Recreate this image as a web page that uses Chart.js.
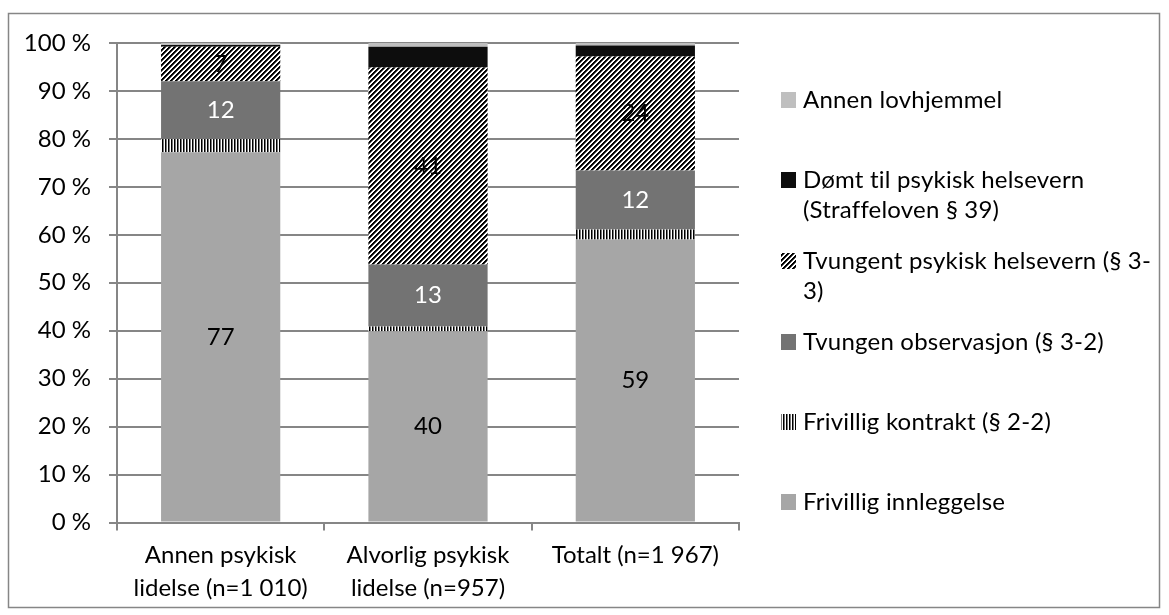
<!DOCTYPE html>
<html lang="no">
<head>
<meta charset="UTF-8">
<title>Lovhjemmel ved innleggelse</title>
<script src="https://cdn.jsdelivr.net/npm/chart.js"></script>
<style>
  body { margin: 0; background: #fff; }
  #wrap { width: 1169px; height: 615px; position: relative; }
</style>
</head>
<body>
<div id="wrap"><canvas id="chart" width="1169" height="615"></canvas></div>

<script>
// data (percent of stays)
const categories = [['Annen psykisk', 'lidelse (n=1 010)'], ['Alvorlig psykisk', 'lidelse (n=957)'], 'Totalt (n=1 967)'];
const frivilligInnleggelse = [77.2, 39.9, 59.0];
const frivilligKontrakt    = [2.8, 1.0, 2.1];
const tvungenObservasjon   = [12.0, 12.9, 12.3];
const tvungentVern         = [7.2, 41.1, 23.8];
const domtTilVern          = [0.4, 4.3, 2.3];
const annenLovhjemmel      = [0.4, 0.8, 0.5];
const yTicks = [0, 10, 20, 30, 40, 50, 60, 70, 80, 90, 100];

const FONT = 'Lato, "Open Sans", sans-serif';
const GRID = '#868686';

// hatch fills like the Excel patterns
function makePattern(size, pick) {
    const c = document.createElement('canvas');
    c.width = size; c.height = size;
    const g = c.getContext('2d');
    const img = g.createImageData(size, size);
    for (let y = 0; y < size; y++) {
        for (let x = 0; x < size; x++) {
            const v = pick(x, y);
            const i = (y * size + x) * 4;
            img.data[i] = img.data[i + 1] = img.data[i + 2] = v;
            img.data[i + 3] = 255;
        }
    }
    g.putImageData(img, 0, 0);
    return g.createPattern(c, 'repeat');
}
const ctx = document.getElementById('chart').getContext('2d');
const diagonal = makePattern(10, (x, y) => [0, 0, 80, 255, 255][(x + y) % 5]);
const vertical = makePattern(6, (x, y) => [0, 120, 255][x % 3]);

const datasets = [
    { label: 'Frivillig innleggelse', data: frivilligInnleggelse, backgroundColor: '#a6a6a6', showValue: true, valueColor: '#000' },
    { label: 'Frivillig kontrakt (§ 2-2)', data: frivilligKontrakt, backgroundColor: vertical },
    { label: 'Tvungen observasjon (§ 3-2)', data: tvungenObservasjon, backgroundColor: '#737373', showValue: true, valueColor: '#fff' },
    { label: 'Tvungent psykisk helsevern (§ 3-3)', data: tvungentVern, backgroundColor: diagonal, showValue: true, valueColor: '#000' },
    { label: 'Dømt til psykisk helsevern (Straffeloven § 39)', data: domtTilVern, backgroundColor: '#0d0d0d' },
    { label: 'Annen lovhjemmel', data: annenLovhjemmel, backgroundColor: '#bfbfbf' }
];
datasets.forEach(d => { d.barPercentage = 0.575; d.categoryPercentage = 1; d.borderWidth = 0; });

// legend text as Excel wraps it, top to bottom
const legendLines = [
    ['Annen lovhjemmel'],
    ['Dømt til psykisk helsevern', '(Straffeloven § 39)'],
    ['Tvungent psykisk helsevern (§ 3-', '3)'],
    ['Tvungen observasjon (§ 3-2)'],
    ['Frivillig kontrakt (§ 2-2)'],
    ['Frivillig innleggelse']
];
const legendY = [100, 180, 261, 342, 422, 502];

const frame = {
    id: 'frame',
    beforeDraw(chart) {
        const c = chart.ctx;
        c.save();
        c.strokeStyle = GRID;
        c.lineWidth = 1.5;
        c.strokeRect(8.5, 13.5, 1151, 594);
        c.restore();
    }
};

const valueLabels = {
    id: 'valueLabels',
    afterDatasetsDraw(chart) {
        const c = chart.ctx;
        c.save();
        c.font = '24px ' + FONT;
        c.textAlign = 'center';
        c.textBaseline = 'middle';
        chart.data.datasets.forEach((ds, i) => {
            if (!ds.showValue) return;
            chart.getDatasetMeta(i).data.forEach((bar, j) => {
                c.fillStyle = ds.valueColor;
                c.fillText(Math.round(ds.data[j]), bar.x, (bar.y + bar.base) / 2);
            });
        });
        c.restore();
    }
};

const sideLegend = {
    id: 'sideLegend',
    afterDraw(chart) {
        const c = chart.ctx;
        const n = chart.data.datasets.length;
        c.save();
        c.font = '24px ' + FONT;
        c.letterSpacing = '0.2px'; // keeps "ti" from turning into a ligature
        c.textBaseline = 'middle';
        c.textAlign = 'left';
        legendLines.forEach((lines, k) => {
            const ds = chart.data.datasets[n - 1 - k];
            const y = legendY[k];
            c.fillStyle = ds.backgroundColor;
            c.fillRect(781, y - 8, 15, 16);
            c.fillStyle = '#000';
            lines.forEach((t, li) => c.fillText(t, 803, y + li * 30));
        });
        c.restore();
    }
};

new Chart(ctx, {
    type: 'bar',
    data: { labels: categories, datasets: datasets },
    plugins: [frame, valueLabels, sideLegend],
    options: {
        responsive: false,
        animation: false,
        layout: { padding: { left: 0, right: 430, top: 43, bottom: 0 } },
        plugins: { legend: { display: false }, tooltip: { enabled: false } },
        scales: {
            x: {
                stacked: true,
                grid: { display: true, drawOnChartArea: false, drawTicks: true, tickLength: 8, color: GRID, lineWidth: 2, offset: true },
                border: { color: GRID, width: 2 },
                ticks: { color: '#000', padding: 8, maxRotation: 0, autoSkip: false, font: { family: FONT, size: 24, lineHeight: 1.38 } },
                afterFit: s => { s.height = 92.5; }
            },
            y: {
                stacked: true,
                min: 0,
                max: 100,
                afterBuildTicks: s => { s.ticks = yTicks.map(v => ({ value: v })); },
                grid: { color: GRID, lineWidth: 2, tickLength: 8 },
                border: { color: GRID, width: 2 },
                ticks: { color: '#000', padding: 18, callback: v => v + ' %', font: { family: FONT, size: 24 } },
                afterFit: s => { s.width = 117; }
            }
        }
    }
});
</script>
</body>
</html>
